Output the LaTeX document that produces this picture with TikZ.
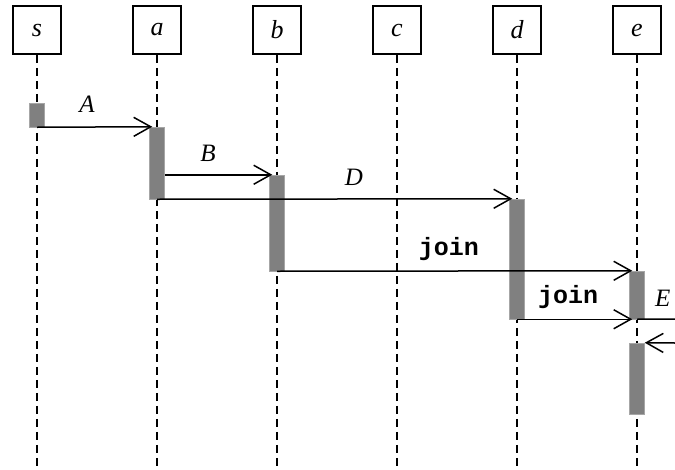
\documentclass[tikz,border=0pt]{standalone}
\usepackage{fontspec}
\setmainfont{Liberation Serif}
\setmonofont{Liberation Mono}
\usetikzlibrary{arrows.meta}
\begin{document}
\begin{tikzpicture}[x=1pt,y=-1pt,
  obj/.style={draw,line width=1.8pt,minimum size=48pt,inner sep=0pt,font=\fontsize{26}{30}\selectfont\itshape},
  life/.style={line width=2pt,dash pattern=on 8pt off 5pt},
  bar/.style={fill=black!50,draw=black!35,line width=0.5pt,minimum width=15pt,inner sep=0pt},
  msg/.style={line width=1.5pt,-{Straight Barb[length=17pt,width=19pt,line width=1.5pt]}},
  plain/.style={line width=1.5pt},
  lbl/.style={anchor=base,inner sep=0pt,font=\fontsize{25}{28}\selectfont\itshape},
  mlbl/.style={anchor=base,inner sep=0pt,font=\fontsize{25}{28}\selectfont\ttfamily\bfseries}]
\useasboundingbox (0,0) rectangle (675,469);
% objects
\node[obj] (s) at (37,30) {s};
\node[obj] (a) at (157,30) {a};
\node[obj] (b) at (277,30) {b};
\node[obj] (c) at (397,30) {c};
\node[obj] (d) at (517,30) {d};
\node[obj] (e) at (637,30) {e};
% lifeline ends
\foreach \n/\x in {s/37,a/157,b/277,c/397,d/517,e/637}{
  \coordinate (\n-end) at (\x,466);
  \draw[life] (\n.south) -- (\n-end);
}
% activation bars
\node[bar,minimum height=24pt] (bs) at (37,115) {};
\node[bar,minimum height=72pt] (ba) at (157,163) {};
\node[bar,minimum height=96pt] (bb) at (277,223) {};
\node[bar,minimum height=120pt] (bd) at (517,259) {};
\node[bar,minimum height=48pt] (be1) at (637,295) {};
\node[bar,minimum height=71pt] (be2) at (637,378.5) {};
% messages
\draw[msg] (bs.south) -- ([xshift=3pt]ba.north west);
\draw[msg] (ba.east |- bb.north) -- ([xshift=3pt]bb.north west);
\draw[msg] (ba.south) -- ([xshift=3pt]bd.north west);
\draw[msg] (bb.south) -- ([xshift=3pt]be1.north west);
\draw[msg] (bd.south) -- ([xshift=3pt]be1.south west);
\coordinate (eout) at (675,319);
\coordinate (ein) at (675,343);
\draw[plain] (be1.south) -- (eout);
\draw[msg] (ein) -- (be2.north east);
% labels
\node[lbl] (lA) at (87,112) {A};
\node[lbl] (lB) at (208,161) {B};
\node[lbl] (lD) at (354,185) {D};
\node[mlbl] (lj1) at (449,255) {join};
\node[mlbl] (lj2) at (568,303) {join};
\node[lbl,anchor=base west] (lE) at (655,306) {E};
\end{tikzpicture}
\end{document}
